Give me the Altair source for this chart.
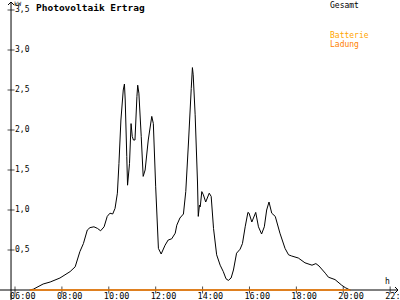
import altair as alt
import pandas as pd

# ---- data ----
times = ["06:38","06:47","07:12","07:30","07:55","08:21","08:34","08:46","08:55","09:05",
         "09:12","09:22","09:31","09:39","09:48","09:56","10:03","10:10","10:16","10:22",
         "10:26","10:31","10:37","10:40","10:42","10:46","10:48","10:53","10:57","11:00",
         "11:03","11:07","11:12","11:14","11:17","11:23","11:28","11:33","11:41","11:50",
         "11:54","12:00","12:07","12:14","12:24","12:32","12:41","12:50","12:54","13:02",
         "13:11","13:17","13:24","13:31","13:34","13:36","13:41","13:47","13:49","13:52",
         "13:54","13:58","14:02","14:08","14:17","14:22","14:28","14:36","14:45","14:53",
         "15:00","15:06","15:13","15:19","15:27","15:36","15:42","15:49","15:56","15:59",
         "16:06","16:16","16:23","16:31","16:38","16:44","16:50","16:57","17:06","17:18",
         "17:31","17:40","17:48","18:05","18:22","18:40","18:50","18:58","19:14","19:22",
         "19:39","19:56","20:05","20:13","20:18"]
pv_kw = [0.00,0.01,0.075,0.10,0.15,0.23,0.29,0.48,0.58,0.75,
         0.78,0.79,0.77,0.74,0.79,0.92,0.96,0.95,1.02,1.21,
         1.58,2.125,2.50,2.575,2.375,1.67,1.31,1.58,2.08,1.92,
         1.875,1.875,2.42,2.56,2.46,1.92,1.42,1.50,1.875,2.17,
         2.08,1.29,0.52,0.45,0.56,0.625,0.64,0.71,0.81,0.90,
         0.95,1.23,1.85,2.52,2.78,2.69,2.19,1.35,0.92,1.06,
         1.04,1.23,1.19,1.10,1.21,1.17,0.77,0.44,0.31,0.23,
         0.14,0.12,0.15,0.25,0.46,0.51,0.58,0.79,0.97,0.96,
         0.85,0.97,0.79,0.70,0.79,1.00,1.10,0.96,0.92,0.71,
         0.52,0.44,0.425,0.40,0.34,0.31,0.33,0.30,0.21,0.16,
         0.13,0.06,0.03,0.01,0.00]
battery_times = ["06:38", "20:18"]
battery_kw = [0.0, 0.0]
x_tick_labels = ["06:00","08:00","10:00","12:00","14:00","16:00","18:00","20:00","22:00"]
y_tick_values = [0.5, 1.0, 1.5, 2.0, 2.5, 3.0, 3.5]
y_tick_labels = ["0,5","1,0","1,5","2,0","2,5","3,0","3,5"]

assert len(times) == len(pv_kw)


def to_hours(t):
    hh, mm = t.split(":")
    return int(hh) + int(mm) / 60.0


pv = pd.DataFrame({"t": [to_hours(t) for t in times], "kw": pv_kw})
bat = pd.DataFrame({"t": [to_hours(t) for t in battery_times], "kw": battery_kw})
xt = pd.DataFrame({"t": [to_hours(t) for t in x_tick_labels], "label": x_tick_labels})
yt = pd.DataFrame({"kw": y_tick_values, "label": y_tick_labels})
one = pd.DataFrame({"a": [0]})

# ---- layout ----
X_DOMAIN = [5.36, 22.42]
Y_DOMAIN = [-0.125, 3.625]
AXIS_T = 5.83  # position of the vertical axis (hours)
FONT = "DejaVu Sans Mono"

xs = alt.Scale(domain=X_DOMAIN, nice=False, zero=False)
ys = alt.Scale(domain=Y_DOMAIN, nice=False, zero=False)


def X(f):
    return alt.X(f, type="quantitative", scale=xs, axis=None)


def Y(f):
    return alt.Y(f, type="quantitative", scale=ys, axis=None)


base_one = alt.Chart(one).transform_calculate(t=str(AXIS_T), kw="0")

x_axis = base_one.mark_rule(color="black", strokeWidth=1).encode(
    x=alt.value(0), x2=alt.value(397), y=Y("kw"))
y_axis = base_one.mark_rule(color="black", strokeWidth=1).encode(
    x=X("t"), y=alt.value(2), y2=alt.value(300))
x_arrow = base_one.mark_point(shape="M-1,-1L0,0L-1,1", size=36, filled=False,
                              color="black", strokeWidth=1, opacity=1).encode(
    x=alt.value(398), y=Y("kw"))
y_arrow = base_one.mark_point(shape="M-1,1L0,0L1,1", size=36, filled=False,
                              color="black", strokeWidth=1, opacity=1).encode(
    x=X("t"), y=alt.value(2))

x_ticks = alt.Chart(xt).transform_calculate(kw="0").mark_tick(
    orient="vertical", size=7, thickness=1, color="black").encode(x=X("t"), y=Y("kw"))
x_labels = alt.Chart(xt).transform_calculate(kw="0").mark_text(
    align="left", baseline="top", dx=-5, dy=2, font=FONT, fontSize=8.5, color="black").encode(
    x=X("t"), y=Y("kw"), text="label:N")

y_ticks = alt.Chart(yt).transform_calculate(t=str(AXIS_T)).mark_tick(
    orient="horizontal", size=7, thickness=1, color="black").encode(x=X("t"), y=Y("kw"))
y_labels = alt.Chart(yt).transform_calculate(t=str(AXIS_T)).mark_text(
    align="left", baseline="middle", dx=4, font=FONT, fontSize=8, color="black").encode(
    x=X("t"), y=Y("kw"), text="label:N")

pv_line = alt.Chart(pv).mark_line(color="black", strokeWidth=1).encode(
    x=X("t"), y=Y("kw"), order="t:Q")
bat_line = alt.Chart(bat).mark_line(color="#FF8000", strokeWidth=1.5).encode(
    x=X("t"), y=Y("kw"))


def label(text, x, y, size, color="black", bold=False):
    return alt.Chart(one).mark_text(
        text=text, align="left", baseline="alphabetic", font=FONT, fontSize=size,
        fontWeight="bold" if bold else "normal", color=color).encode(
        x=alt.value(x), y=alt.value(y))


title = label("Photovoltaik Ertrag", 36, 11, 9.5, bold=True)
kw_unit = label("kW", 14, 5.5, 6)
h_unit = label("h", 385, 284, 8)
gesamt = label("Gesamt", 330, 7.5, 8)
batterie = label("Batterie", 330, 38, 8, color="#FFA500")
ladung = label("Ladung", 330, 46.5, 8, color="#FF8000")

chart = alt.layer(
    x_axis, y_axis, x_arrow, y_arrow, x_ticks, y_ticks, x_labels, y_labels,
    pv_line, bat_line, title, kw_unit, h_unit, gesamt, batterie, ladung
).properties(
    width=400, height=300,
    autosize=alt.AutoSizeParams(type="none"),
    padding=0, background="white"
).configure_view(stroke=None)

chart.save("out.html", embed_options={"renderer": "svg", "actions": False})
